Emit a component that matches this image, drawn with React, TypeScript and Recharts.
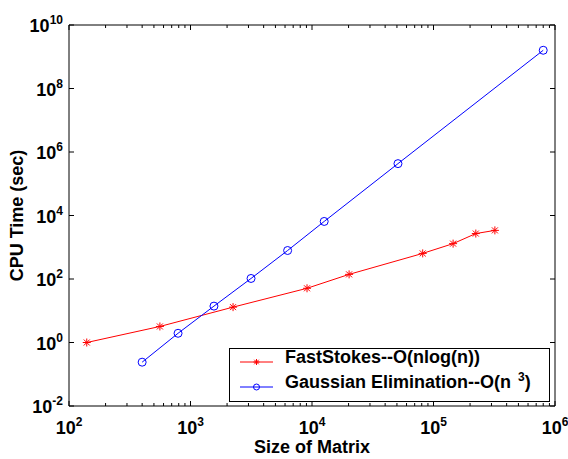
import React from 'react';
import { LineChart, Line, XAxis, YAxis, Legend } from 'recharts';

// matrix sizes and CPU times
const fastSizes = [140, 560, 2240, 9100, 20200, 81500, 145000, 223000, 320000];
const fastTimes = [1.0, 3.2, 13, 51, 140, 640, 1300, 2700, 3400];
const gaussSizes = [400, 790, 1560, 3150, 6300, 12600, 51000, 800000];
const gaussTimes = [0.24, 1.95, 14, 104, 790, 6500, 430000, 1.6e9];

const xMajor = [1e2, 1e3, 1e4, 1e5, 1e6];
const xTicks: number[] = [];
xMajor.forEach((d, i) => {
  xTicks.push(d);
  if (i < xMajor.length - 1) for (let k = 2; k <= 9; k++) xTicks.push(d * k);
});
const yTicks = [1e-2, 1e0, 1e2, 1e4, 1e6, 1e8, 1e10];
const xDomain = [1e2, 1e6];
const yDomain = [1e-2, 1e10];

const fastData = fastSizes.map((n, i) => ({ n, t: fastTimes[i] }));
const gaussData = gaussSizes.map((n, i) => ({ n, t: gaussTimes[i] }));

const FONT = '"Liberation Sans", Arial, sans-serif';
const RED = '#ff0000';
const BLUE = '#0000ff';

// layout
const W = 568;
const H = 459;
const MARGIN = { top: 25, right: 13, left: 0, bottom: 0 };
const X_AXIS_H = 53;
const Y_AXIS_W = 69;
const PLOT_X = MARGIN.left + Y_AXIS_W;
const PLOT_Y = MARGIN.top;
const PLOT_W = W - MARGIN.left - MARGIN.right - Y_AXIS_W;
const PLOT_H = H - MARGIN.top - MARGIN.bottom - X_AXIS_H;

const expOf = (v: number) => {
  const l = Math.log10(v);
  const e = Math.round(l);
  return { e, major: Math.abs(l - e) < 1e-6 };
};

const BottomTick = (props: any) => {
  const { x, y, payload } = props;
  const { e, major } = expOf(payload.value);
  return (
    <g>
      <line x1={x} x2={x} y1={y} y2={y - (major ? 5 : 3)} stroke="#000" />
      {major && (
        <text x={x} y={y + 28} textAnchor="middle" fontFamily={FONT} fontWeight="bold" fontSize={18} fill="#000">
          10<tspan dy={-8} fontSize={12}>{e}</tspan>
        </text>
      )}
    </g>
  );
};

const LeftTick = (props: any) => {
  const { x, y, payload } = props;
  const { e } = expOf(payload.value);
  return (
    <g>
      <line x1={x} x2={x + 5} y1={y} y2={y} stroke="#000" />
      <text x={x - 6} y={y + 7} textAnchor="end" fontFamily={FONT} fontWeight="bold" fontSize={18} fill="#000">
        10<tspan dy={-8} fontSize={12}>{e}</tspan>
      </text>
    </g>
  );
};

const Star = ({ cx, cy, color, r = 4 }: any) => {
  const d = r * 0.75;
  return (
    <path
      d={`M${cx - r},${cy}H${cx + r}M${cx},${cy - r}V${cy + r}M${cx - d},${cy - d}L${cx + d},${cy + d}M${cx - d},${cy + d}L${cx + d},${cy - d}`}
      stroke={color}
      fill="none"
    />
  );
};

// log position inside the plot box, used only for the mirrored frame ticks
const logFrac = (v: number, [a, b]: number[]) =>
  (Math.log10(v) - Math.log10(a)) / (Math.log10(b) - Math.log10(a));

// overlay: top/right frame with mirrored ticks, plus the legend box
const renderLegend = () => {
  const right = PLOT_X + PLOT_W;
  const LX = 229;
  const LY = 348;
  return (
    <svg width={W} height={H} style={{ display: 'block', pointerEvents: 'none' }}>
      <line x1={PLOT_X} x2={right} y1={PLOT_Y} y2={PLOT_Y} stroke="#000" />
      <line x1={right} x2={right} y1={PLOT_Y} y2={PLOT_Y + PLOT_H} stroke="#000" />
      {xTicks.map((v) => {
        const x = PLOT_X + PLOT_W * logFrac(v, xDomain);
        return <line key={`t${v}`} x1={x} x2={x} y1={PLOT_Y} y2={PLOT_Y + (expOf(v).major ? 5 : 3)} stroke="#000" />;
      })}
      {yTicks.map((v) => {
        const y = PLOT_Y + PLOT_H * (1 - logFrac(v, yDomain));
        return <line key={`r${v}`} x1={right - 5} x2={right} y1={y} y2={y} stroke="#000" />;
      })}
      <g transform={`translate(${LX}, ${LY})`}>
        <rect x={0.5} y={0.5} width={320} height={53} fill="#fff" stroke="#000" />
        <line x1={11} x2={44} y1={14} y2={14} stroke={RED} />
        <Star cx={27.5} cy={14} color={RED} r={3} />
        <text x={56} y={15} fontFamily={FONT} fontWeight="bold" fontSize={18} fill="#000">
          FastStokes--O(nlog(n))
        </text>
        <line x1={11} x2={44} y1={39} y2={39} stroke={BLUE} />
        <circle cx={27.5} cy={39} r={3} stroke={BLUE} fill="none" />
        <text x={56} y={40} fontFamily={FONT} fontWeight="bold" fontSize={18} fill="#000">
          Gaussian Elimination--O(n
          <tspan dx={7} dy={-7} fontSize={12}>3</tspan>
          <tspan dy={7}>)</tspan>
        </text>
      </g>
    </svg>
  );
};

export default function App() {
  return (
    <div style={{ position: 'absolute', left: 0, top: 0, background: '#fff' }}>
      <LineChart width={W} height={H} margin={MARGIN}>
        <XAxis
          dataKey="n"
          type="number"
          scale="log"
          domain={xDomain}
          ticks={xTicks}
          interval={0}
          allowDataOverflow
          height={X_AXIS_H}
          tickSize={0}
          tickMargin={0}
          tickLine={false}
          axisLine={{ stroke: '#000' }}
          tick={BottomTick}
          label={{
            content: ({ viewBox }: any) => (
              <text
                x={viewBox.x + viewBox.width / 2}
                y={viewBox.y + 47}
                textAnchor="middle"
                fontFamily={FONT}
                fontWeight="bold"
                fontSize={18}
                fill="#000"
              >
                Size of Matrix
              </text>
            ),
          }}
        />
        <YAxis
          type="number"
          scale="log"
          domain={yDomain}
          ticks={yTicks}
          interval={0}
          allowDataOverflow
          width={Y_AXIS_W}
          tickSize={0}
          tickMargin={0}
          tickLine={false}
          axisLine={{ stroke: '#000' }}
          tick={LeftTick}
          label={{
            content: ({ viewBox }: any) => {
              const cy = viewBox.y + viewBox.height / 2;
              return (
                <text
                  x={23}
                  y={cy}
                  transform={`rotate(-90, 23, ${cy})`}
                  textAnchor="middle"
                  fontFamily={FONT}
                  fontWeight="bold"
                  fontSize={18}
                  fill="#000"
                >
                  CPU Time (sec)
                </text>
              );
            },
          }}
        />
        <Legend
          layout="horizontal"
          verticalAlign="middle"
          align="center"
          content={renderLegend}
          wrapperStyle={{ left: 0, top: 0, width: W, height: H, pointerEvents: 'none' }}
        />
        <Line
          data={fastData}
          dataKey="t"
          stroke={RED}
          strokeWidth={1}
          isAnimationActive={false}
          dot={(p: any) => <Star key={`f${p.index}`} cx={p.cx} cy={p.cy} color={RED} />}
        />
        <Line
          data={gaussData}
          dataKey="t"
          stroke={BLUE}
          strokeWidth={1}
          isAnimationActive={false}
          dot={(p: any) => <circle key={`g${p.index}`} cx={p.cx} cy={p.cy} r={4} stroke={BLUE} fill="none" />}
        />
      </LineChart>
    </div>
  );
}
